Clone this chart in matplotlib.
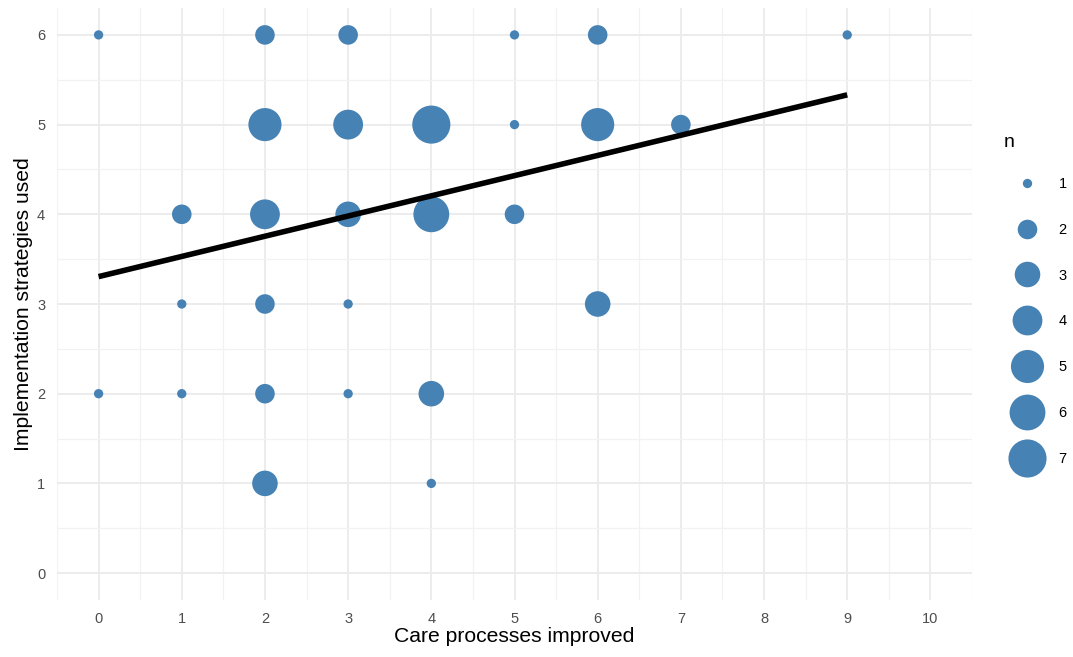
import numpy as np
import matplotlib
matplotlib.use("Agg")
import matplotlib.pyplot as plt
from matplotlib.lines import Line2D

plt.rcParams['font.family'] = ['Liberation Sans', 'DejaVu Sans']

# Data: care processes improved (x), implementation strategies used (y), count (n)
care_processes = [0, 2, 3, 5, 6, 9,
                  2, 3, 4, 5, 6, 7,
                  1, 2, 3, 4, 5,
                  1, 2, 3, 6,
                  0, 1, 2, 3, 4,
                  2, 4]
strategies = [6, 6, 6, 6, 6, 6,
              5, 5, 5, 5, 5, 5,
              4, 4, 4, 4, 4,
              3, 3, 3, 3,
              2, 2, 2, 2, 2,
              1, 1]
counts = [1, 2, 2, 1, 2, 1,
          5, 4, 7, 1, 5, 2,
          2, 4, 3, 6, 2,
          1, 2, 1, 3,
          1, 1, 2, 1, 3,
          3, 1]
legend_levels = [1, 2, 3, 4, 5, 6, 7]
x_ticks = list(range(0, 11))
y_ticks = list(range(0, 7))

POINT_COLOR = "#4682B4"
DPI = 100


def diameter_pt(n):
    px = 9.3 + 14.8 * np.log(np.asarray(n, dtype=float))
    return px * 72.0 / DPI


fig = plt.figure(figsize=(10.73, 6.57), dpi=DPI)
ax = fig.add_axes([57 / 1073, 57 / 657, (972 - 57) / 1073, (649 - 57) / 657])

x = np.array(care_processes, dtype=float)
y = np.array(strategies, dtype=float)
n = np.array(counts)

ax.scatter(x, y, s=diameter_pt(n) ** 2, color=POINT_COLOR, edgecolors='none', zorder=3)

# linear fit over all observations
xs = np.repeat(x, n)
ys = np.repeat(y, n)
slope, intercept = np.polyfit(xs, ys, 1)
xl = np.array([x.min(), x.max()])
ax.plot(xl, intercept + slope * xl, color='black', lw=4.0, zorder=4, solid_capstyle='butt')

ax.set_xlim(-0.5, 10.5)
ax.set_ylim(-0.3, 6.3)
ax.set_xticks(x_ticks)
ax.set_yticks(y_ticks)
ax.set_xticks(np.arange(-0.5, 10.6, 1.0), minor=True)
ax.set_yticks(np.arange(0.5, 6.0, 1.0), minor=True)
ax.grid(True, which='major', color='#EBEBEB', lw=1.3, zorder=0)
ax.grid(True, which='minor', color='#F2F2F2', lw=0.9, zorder=0)
ax.set_axisbelow(True)
for s in ax.spines.values():
    s.set_visible(False)
ax.tick_params(which='both', length=0, labelsize=10.5, labelcolor='#4D4D4D', pad=8.5)
ax.set_xlabel("Care processes improved", fontsize=15.2, color='black', labelpad=1)
ax.set_ylabel("Implementation strategies used", fontsize=15.2, color='black', labelpad=3)

handles = [Line2D([], [], marker='o', linestyle='none', markerfacecolor=POINT_COLOR,
                  markeredgecolor='none', markersize=diameter_pt(v)) for v in legend_levels]
leg = fig.legend(handles, [str(v) for v in legend_levels], title='n',
                 loc='upper left', bbox_to_anchor=(998 / 1073, 1 - 128 / 657),
                 frameon=False, fontsize=10.5, title_fontsize=14,
                 labelspacing=2.18, handlelength=3.15, handletextpad=0.6,
                 borderaxespad=0, alignment='left')
# tighten gap between legend title and first entry
leg._legend_box.sep = 18.8

fig.savefig("out.png", dpi=DPI, facecolor='white')
